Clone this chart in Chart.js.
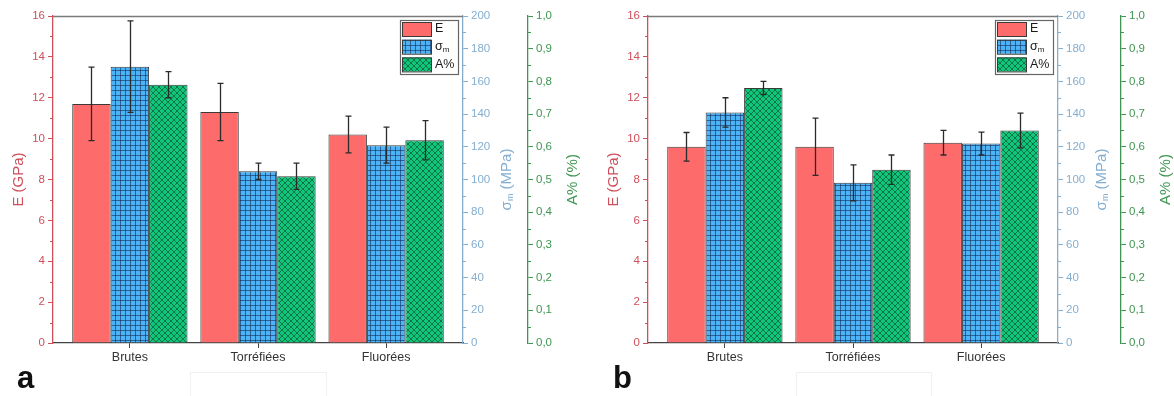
<!DOCTYPE html>
<html>
<head>
<meta charset="utf-8">
<script src="https://cdn.jsdelivr.net/npm/chart.js@4/dist/chart.umd.min.js"></script>
<style>
  html, body { margin: 0; padding: 0; background: #fff; }
  body { width: 1174px; height: 396px; position: relative; overflow: hidden; font-family: 'Liberation Sans', Arial, sans-serif; }
  .panel { position: absolute; top: 0; height: 396px; }
  .lettre { position: absolute; font: bold 31px 'Liberation Sans', Arial, sans-serif; color: #111; }
  .ombre { position: absolute; border: 1px solid #f1f1f1; border-bottom: none; }
</style>
</head>
<body>
<div class="panel" style="left:0;width:590px"><canvas id="chartA"></canvas></div>
<div class="panel" style="left:595px;width:579px"><canvas id="chartB"></canvas></div>
<div class="ombre" style="left:190px;top:372px;width:135px;height:30px"></div>
<div class="ombre" style="left:796px;top:372px;width:134px;height:30px"></div>
<div class="lettre" style="left:17px;top:360px">a</div>
<div class="lettre" style="left:613px;top:360px">b</div>
<script>
// catégories et valeurs
const categories = ['Brutes', 'Torréfiées', 'Fluorées'];

// (a)
const moduleA = [11.7, 11.3, 10.2];
const moduleAErr = [1.8, 1.4, 0.9];
const sigmaA = [169, 105, 121];
const sigmaAErr = [28, 5, 11];
const allongA = [0.79, 0.51, 0.62];
const allongAErr = [0.04, 0.04, 0.06];

// (b)
const moduleB = [9.6, 9.6, 9.8];
const moduleBErr = [0.7, 1.4, 0.6];
const sigmaB = [141, 98, 122];
const sigmaBErr = [9, 11, 7];
const allongB = [0.78, 0.53, 0.65];
const allongBErr = [0.02, 0.045, 0.053];

const couleurs = {
  rouge: '#fd6b6b',
  bleu: '#4cb3f6',
  vert: '#0fc67b',
  axeRouge: '#cf4f5a',
  axeBleu: '#84aed0',
  axeVert: '#3f9652',
  bord: '#3a3a3a',
};

function motifGrille() {
  const c = document.createElement('canvas');
  c.width = 5; c.height = 5;
  const g = c.getContext('2d');
  g.fillStyle = couleurs.bleu;
  g.fillRect(0, 0, 5, 5);
  g.fillStyle = 'rgba(20,45,90,0.6)';
  g.fillRect(0, 0, 5, 1);
  g.fillRect(0, 0, 1, 5);
  return g.createPattern(c, 'repeat');
}

function motifCroise() {
  const c = document.createElement('canvas');
  c.width = 6; c.height = 6;
  const g = c.getContext('2d');
  g.fillStyle = couleurs.vert;
  g.fillRect(0, 0, 6, 6);
  g.strokeStyle = 'rgba(10,70,40,0.7)';
  g.lineWidth = 0.9;
  g.beginPath();
  g.moveTo(-1, -1); g.lineTo(7, 7);
  g.moveTo(7, -1); g.lineTo(-1, 7);
  g.stroke();
  return g.createPattern(c, 'repeat');
}

const points = (vals) => vals.map((v, i) => ({ x: i, y: v }));

const decor = {
  id: 'decor',
  afterDatasetsDraw(chart) {
    const ctx = chart.ctx;
    ctx.save();
    ctx.strokeStyle = '#2b2b2b';
    ctx.lineWidth = 1.3;
    chart.data.datasets.forEach((ds, i) => {
      const meta = chart.getDatasetMeta(i);
      const y = chart.scales[ds.yAxisID];
      meta.data.forEach((bar, j) => {
        const v = ds.data[j].y, e = ds.erreurs[j];
        const t = y.getPixelForValue(v + e), b = y.getPixelForValue(v - e);
        const x = Math.round(bar.x) + 0.5;
        ctx.beginPath();
        ctx.moveTo(x, t); ctx.lineTo(x, b);
        ctx.moveTo(x - 3, t); ctx.lineTo(x + 3, t);
        ctx.moveTo(x - 3, b); ctx.lineTo(x + 3, b);
        ctx.stroke();
      });
    });
    ctx.restore();
  },
  afterDraw(chart) {
    const ctx = chart.ctx;
    const a = chart.chartArea;
    const s = chart.scales;
    ctx.save();

    // cadre du haut
    ctx.strokeStyle = '#7a7a7a';
    ctx.lineWidth = 1.5;
    ctx.beginPath();
    ctx.moveTo(a.left, a.top + 0.5); ctx.lineTo(a.right, a.top + 0.5);
    ctx.stroke();

    // graduations secondaires
    const mineures = (sc, pas, sens, coul) => {
      ctx.strokeStyle = coul;
      ctx.lineWidth = 1;
      for (let v = sc.min + pas / 2; v < sc.max; v += pas) {
        const y = Math.round(sc.getPixelForValue(v)) + 0.5;
        const x0 = sens < 0 ? sc.right : sc.left;
        ctx.beginPath();
        ctx.moveTo(x0, y); ctx.lineTo(x0 + sens * 3, y);
        ctx.stroke();
      }
    };
    mineures(s.yE, 2, -1, couleurs.axeRouge);
    mineures(s.yS, 20, 1, couleurs.axeBleu);
    mineures(s.yA, 0.1, 1, couleurs.axeVert);

    // titres des axes
    const yc = (a.top + a.bottom) / 2;
    const titre = (x, morceaux, coul) => {
      ctx.save();
      ctx.translate(x, yc);
      ctx.rotate(-Math.PI / 2);
      ctx.fillStyle = coul;
      ctx.textBaseline = 'middle';
      let w = 0;
      morceaux.forEach((m) => { ctx.font = m.f; w += ctx.measureText(m.t).width; });
      let px = -w / 2;
      morceaux.forEach((m) => {
        ctx.font = m.f;
        ctx.fillText(m.t, px, m.dy || 0);
        px += ctx.measureText(m.t).width;
      });
      ctx.restore();
    };
    const f = '15px "Liberation Sans", Arial, sans-serif';
    const fs = '9px "Liberation Sans", Arial, sans-serif';
    titre(a.left - 34, [{ t: 'E (GPa)', f }], couleurs.axeRouge);
    titre(s.yS.left + 44, [{ t: 'σ', f }, { t: 'm', f: fs, dy: 4 }, { t: ' (MPa)', f }], couleurs.axeBleu);
    titre(s.yA.left + 45, [{ t: 'A% (%)', f }], couleurs.axeVert);

    // légende
    const lx = a.right - 63, ly = a.top + 4;
    ctx.fillStyle = '#fff';
    ctx.fillRect(lx, ly, 58, 54);
    ctx.strokeStyle = '#666';
    ctx.lineWidth = 1.2;
    ctx.strokeRect(lx + 0.5, ly + 0.5, 58, 54);
    chart.data.datasets.forEach((ds, i) => {
      const ry = ly + 2 + i * 17.7;
      ctx.fillStyle = ds.backgroundColor;
      ctx.fillRect(lx + 2, ry, 29, 14);
      ctx.strokeStyle = couleurs.bord;
      ctx.lineWidth = 1;
      ctx.strokeRect(lx + 2.5, ry + 0.5, 29, 14);
      ctx.fillStyle = '#1a1a1a';
      ctx.textBaseline = 'middle';
      ctx.font = '12.5px "Liberation Sans", Arial, sans-serif';
      if (ds.label === 'σm') {
        ctx.fillText('σ', lx + 35, ry + 7);
        const w = ctx.measureText('σ').width;
        ctx.font = '8px "Liberation Sans", Arial, sans-serif';
        ctx.fillText('m', lx + 35 + w, ry + 10);
      } else {
        ctx.fillText(ds.label, lx + 35, ry + 7);
      }
    });
    ctx.restore();
  },
};

function axeY(coul, pos, max, pas, fmt, largeur) {
  return {
    type: 'linear',
    position: pos,
    min: 0,
    max,
    grid: { drawOnChartArea: false, tickLength: 5, color: coul, tickColor: coul },
    border: { color: coul, width: 1.3 },
    ticks: {
      stepSize: pas,
      color: coul,
      padding: 3,
      font: { family: 'Liberation Sans', size: 11.5 },
      callback: fmt,
    },
    afterFit: (sc) => { sc.width = largeur; },
  };
}

function dessiner(id, mod, modErr, sig, sigErr, all, allErr, largS, largA) {
  new Chart(document.getElementById(id), {
    type: 'bar',
    data: {
      datasets: [
        { label: 'E', data: points(mod), erreurs: modErr, yAxisID: 'yE', backgroundColor: couleurs.rouge },
        { label: 'σm', data: points(sig), erreurs: sigErr, yAxisID: 'yS', backgroundColor: motifGrille() },
        { label: 'A%', data: points(all), erreurs: allErr, yAxisID: 'yA', backgroundColor: motifCroise() },
      ],
    },
    options: {
      responsive: true,
      maintainAspectRatio: false,
      animation: false,
      categoryPercentage: 0.9,
      barPercentage: 1,
      borderColor: couleurs.bord,
      borderWidth: 1,
      layout: { padding: { top: 16, left: 0, right: 0, bottom: 0 } },
      plugins: { legend: { display: false }, tooltip: { enabled: false } },
      scales: {
        x: {
          type: 'linear',
          offset: false,
          min: -0.6,
          max: 2.6,
          afterBuildTicks: (sc) => { sc.ticks = categories.map((c, i) => ({ value: i })); },
          ticks: {
            color: '#333',
            padding: 2,
            font: { family: 'Liberation Sans', size: 12.5 },
            callback: (v) => categories[v],
          },
          grid: { offset: false, drawOnChartArea: false, tickLength: 5, color: '#444', tickColor: '#444' },
          border: { color: '#444', width: 1.3 },
          afterFit: (sc) => { sc.height = 53; },
        },
        yE: axeY(couleurs.axeRouge, 'left', 16, 2, (v) => v, 53),
        yS: axeY(couleurs.axeBleu, 'right', 200, 20, (v) => v, largS),
        yA: axeY(couleurs.axeVert, 'right', 1, 0.1, (v) => Number(v).toFixed(1).replace('.', ','), largA),
      },
    },
    plugins: [decor],
  });
}

dessiner('chartA', moduleA, moduleAErr, sigmaA, sigmaAErr, allongA, allongAErr, 65, 62);
dessiner('chartB', moduleB, moduleBErr, sigmaB, sigmaBErr, allongB, allongBErr, 63, 53);
</script>
</body>
</html>
